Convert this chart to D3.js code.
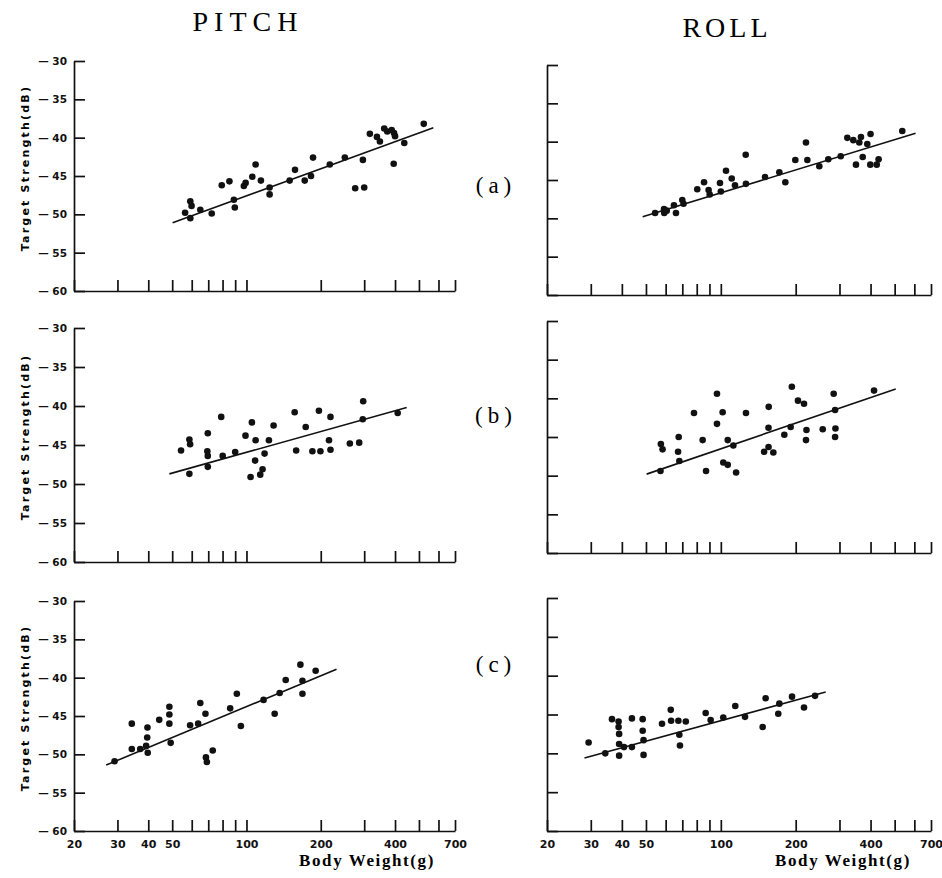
<!DOCTYPE html>
<html>
<head>
<meta charset="utf-8">
<script src="https://cdn.jsdelivr.net/npm/d3@7"></script>
<style>
  body { margin: 0; background: #fff; }
  svg { display: block; }
  .axis path, .axis line { stroke: #111; stroke-width: 1.7; }
  .axis text { font-family: "DejaVu Sans", sans-serif; font-size: 11px; font-weight: bold; fill: #111; }
</style>
</head>
<body>
<div id="chart"></div>
<script>
var width = 942,
  height = 878;

// body weight (g), target strength (dB)
var pitchA = [[56.4,-49.8],[59.2,-48.3],[59.9,-48.9],[59.2,-50.5],[65,-49.4],[72.3,-49.9],[79.4,-46.2],
  [85.3,-45.7],[88.9,-48.1],[89.7,-49.1],[97.6,-46.3],[99.2,-45.9],[105.6,-45.1],[108.9,-43.5],
  [114.4,-45.6],[124.1,-46.5],[124.1,-47.4],[149.6,-45.6],[157.3,-44.2],[172.2,-45.6],[182.6,-45.0],
  [186.1,-42.6],[217.6,-43.5],[250.4,-42.6],[275.8,-46.6],[300,-46.5],[296.4,-42.9],[316.3,-39.5],
  [337.8,-39.9],[347.4,-40.5],[361.7,-38.8],[372,-39.2],[387.8,-39.0],[396.2,-39.4],[400,-39.8],
  [395,-43.4],[436,-40.7],[523,-38.2]];
var rollA = [[54.4,-49.3],[59.1,-48.8],[59.2,-49.3],[60.6,-49.0],[64.8,-48.3],[66,-49.3],[70,-47.6],
  [70.8,-48.1],[80.4,-46.2],[85.6,-45.3],[89.3,-46.3],[90.2,-46.9],[99.2,-45.4],[100,-46.5],
  [104.9,-43.8],[110.6,-44.8],[114,-45.7],[125.9,-41.7],[126.2,-45.5],[150.5,-44.6],[171.9,-44.0],
  [181.7,-45.3],[199.3,-42.4],[220,-40.1],[222.8,-42.4],[248.9,-43.2],[270.5,-42.3],[303.5,-41.9],
  [322.6,-39.5],[340.9,-39.8],[349.5,-43.0],[360.4,-40.1],[366,-39.4],[372,-42.0],[388,-40.3],
  [400,-39.0],[399,-43.0],[423.5,-43.0],[431,-42.3],[536.6,-38.6]];
var pitchB = [[54.3,-45.7],[58.7,-44.3],[59.1,-44.9],[58.7,-48.7],[69.7,-43.5],[69.4,-45.8],[69.7,-46.4],
  [69.7,-47.8],[79,-41.4],[80.1,-46.4],[90,-45.9],[99.1,-43.8],[105.2,-42.1],[103.9,-49.1],
  [108.9,-44.4],[108.4,-47.0],[113.7,-48.8],[116.2,-48.1],[118.4,-46.1],[123.3,-44.4],[128.8,-42.5],
  [156.8,-40.8],[159,-45.7],[173.8,-42.7],[185,-45.8],[199.4,-45.8],[196.6,-40.6],[219,-41.4],
  [216,-44.4],[219,-45.6],[262.4,-44.8],[286.3,-44.7],[297.2,-39.4],[296,-41.7],[410,-40.9]];
var rollB = [[57.4,-45.9],[58.3,-46.6],[57.2,-49.4],[67.7,-45.0],[67.3,-46.9],[68.1,-48.1],[78,-41.9],
  [84.5,-45.4],[87.2,-49.4],[96.5,-39.4],[96.5,-43.3],[101.7,-41.8],[106.6,-45.4],[102.3,-48.3],
  [106.6,-48.6],[112.3,-46.1],[115.2,-49.6],[126.2,-41.9],[155.8,-41.1],[155.5,-43.8],[149.3,-46.9],
  [155.5,-46.3],[162.6,-47.0],[180,-44.7],[190.9,-43.7],[193,-38.5],[204.3,-40.3],[216,-40.7],
  [221,-44.1],[220,-45.4],[256.9,-44.0],[284.3,-39.4],[288,-41.5],[289,-43.9],[288,-45.0],[413,-39.0]];
var pitchC = [[29.2,-50.9],[34.3,-46.0],[34.3,-49.3],[37.1,-49.3],[39.7,-46.5],[39.6,-47.8],[39.2,-48.9],
  [39.8,-49.8],[44.3,-45.5],[48.7,-43.8],[48.7,-44.8],[48.7,-46.0],[49.3,-48.5],[59.1,-46.2],
  [63.7,-46.0],[65,-43.3],[68.2,-44.7],[68.5,-50.4],[69.1,-51.0],[73,-49.5],[85.9,-44.0],[91.4,-42.1],
  [94.9,-46.3],[117.3,-42.9],[130.1,-44.7],[136.3,-42.0],[144.2,-40.3],[165.4,-38.3],[168.6,-40.4],
  [168.6,-42.1],[190.7,-39.1]];
var rollC = [[29.4,-48.6],[34.3,-50.0],[36.5,-45.6],[38.8,-45.9],[38.8,-46.6],[39,-47.5],[39,-48.8],
  [39,-50.3],[40.8,-49.2],[43.9,-45.5],[43.9,-49.2],[48.5,-45.6],[48.5,-47.1],[48.9,-48.3],[48.9,-50.2],
  [58,-46.2],[62.9,-44.4],[63.1,-45.8],[67.5,-45.8],[68.1,-47.6],[68.5,-49.0],[72.3,-45.9],[86.9,-44.8],
  [91,-45.7],[102.3,-45.4],[114.3,-43.9],[125.1,-45.3],[147.3,-46.6],[151.4,-42.9],[170.2,-44.9],
  [171.9,-43.6],[193.3,-42.7],[216,-44.1],[239.2,-42.6]];

// regression line end points
var fitPitchA = [[50.2,-51.1],[572,-38.7]];
var fitRollA = [[48.5,-49.8],[607,-38.9]];
var fitPitchB = [[48.7,-48.7],[446,-40.2]];
var fitRollB = [[50.3,-49.8],[505,-38.8]];
var fitPitchC = [[27,-51.4],[231.7,-38.9]];
var fitRollC = [[28.3,-50.6],[264,-42.1]];

var yTicks = [-60, -55, -50, -45, -40, -35, -30];
var xTicks = [20, 30, 40, 50, 60, 70, 80, 90, 100, 200, 300, 400, 500, 600, 700];
var xLabels = [20, 30, 40, 50, 100, 200, 400, 700];
var rowLabels = ["(a)", "(b)", "(c)"];

var svg = d3.select("#chart").append("svg")
  .attr("width", width)
  .attr("height", height);

var panels = [
  {data: pitchA, fit: fitPitchA, x0: 74, x1: 455, top: 61, bot: 291, left: true, bottom: false},
  {data: rollA, fit: fitRollA, x0: 547, x1: 931, top: 65, bot: 295, left: false, bottom: false},
  {data: pitchB, fit: fitPitchB, x0: 74, x1: 455, top: 328, bot: 562, left: true, bottom: false},
  {data: rollB, fit: fitRollB, x0: 547, x1: 931, top: 321, bot: 553, left: false, bottom: false},
  {data: pitchC, fit: fitPitchC, x0: 74, x1: 455, top: 601, bot: 831, left: true, bottom: true},
  {data: rollC, fit: fitRollC, x0: 547, x1: 931, top: 598, bot: 831, left: false, bottom: true}
];

panels.forEach(function(p) {
  var x = d3.scaleLog().domain([20, 700]).range([p.x0, p.x1]);
  var y = d3.scaleLinear().domain([-60, -30]).range([p.bot, p.top]);
  var g = svg.append("g");

  // y axis, ticks pointing into the plot
  g.append("g")
    .attr("class", "axis")
    .attr("transform", "translate(" + p.x0 + ",0)")
    .call(d3.axisRight(y).tickValues(yTicks).tickSize(11).tickSizeOuter(0).tickFormat(""));

  if (p.left) {
    var yl = g.append("g")
      .attr("class", "axis")
      .attr("transform", "translate(" + (p.x0 - 5) + ",0)")
      .call(d3.axisLeft(y).tickValues(yTicks).tickSize(0).tickPadding(2)
        .tickFormat(function(d) { return "\u2014 " + Math.abs(d); }));
    yl.select(".domain").remove();
    yl.selectAll("text").style("font-size", "10.5px");

    g.append("text")
      .attr("transform", "translate(29," + ((p.top + p.bot) / 2 - 8) + ") rotate(-90)")
      .attr("text-anchor", "middle")
      .style("font-family", "DejaVu Sans, sans-serif")
      .style("font-size", "11px")
      .style("font-weight", "bold")
      .style("letter-spacing", "2.2px")
      .text("Target Strength(dB)");
  }

  // x axis, ticks pointing up
  g.append("g")
    .attr("class", "axis")
    .attr("transform", "translate(0," + p.bot + ")")
    .call(d3.axisBottom(x).tickValues(xTicks).tickSize(-11).tickSizeOuter(0).tickPadding(9)
      .tickFormat(function(d) { return p.bottom && xLabels.indexOf(d) >= 0 ? d : ""; }));

  if (p.bottom) {
    g.append("text")
      .attr("x", (p.x1 - 88))
      .attr("y", 866)
      .attr("text-anchor", "middle")
      .style("font-family", "'Liberation Serif', serif")
      .style("font-size", "17px")
      .style("font-weight", "bold")
      .style("letter-spacing", "1.6px")
      .text("Body Weight(g)");
  }

  // regression line
  g.append("path")
    .datum(p.fit)
    .attr("fill", "none")
    .attr("stroke", "#111")
    .attr("stroke-width", 1.6)
    .attr("d", d3.line().x(function(d) { return x(d[0]); }).y(function(d) { return y(d[1]); }));

  g.selectAll(".dot")
    .data(p.data)
    .enter().append("circle")
    .attr("class", "dot")
    .attr("cx", function(d) { return x(d[0]); })
    .attr("cy", function(d) { return y(d[1]); })
    .attr("r", 3.3)
    .attr("fill", "#111");
});

// column titles
svg.append("text")
  .attr("x", 248).attr("y", 31)
  .attr("text-anchor", "middle")
  .style("font-family", "'Liberation Serif', serif")
  .style("font-size", "28px")
  .style("letter-spacing", "6px")
  .text("PITCH");
svg.append("text")
  .attr("x", 727).attr("y", 37)
  .attr("text-anchor", "middle")
  .style("font-family", "'Liberation Serif', serif")
  .style("font-size", "28px")
  .style("letter-spacing", "4px")
  .text("ROLL");

// row labels
var rowY = [193, 423, 672];
svg.selectAll(".rowLabel")
  .data(rowLabels)
  .enter().append("text")
  .attr("class", "rowLabel")
  .attr("x", 496)
  .attr("y", function(d, i) { return rowY[i]; })
  .attr("text-anchor", "middle")
  .style("font-family", "'Liberation Serif', serif")
  .style("font-size", "23px")
  .style("letter-spacing", "5px")
  .text(function(d) { return d; });
</script>
</body>
</html>
